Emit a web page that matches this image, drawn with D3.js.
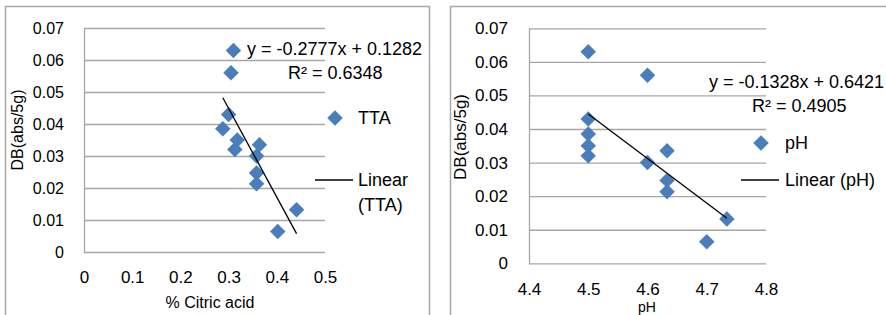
<!DOCTYPE html>
<html>
<head>
<meta charset="utf-8">
<script src="https://cdn.jsdelivr.net/npm/d3@7"></script>
<style>
    body { margin: 0; background: #fff; }
    svg { display: block; font-family: "Liberation Sans", Arial, sans-serif; }
    .grid line { stroke: #a6a6a6; stroke-width: 1.3; }
    .grid path { stroke: #a6a6a6; stroke-width: 1.3; }
</style>
</head>
<body>
<svg width="886" height="315"></svg>
<script>
// Same 12 samples in both panels: DB on y, TTA or pH on x.
var dbValues = [0.063, 0.056, 0.043, 0.0385, 0.035, 0.032, 0.0335, 0.030, 0.0247, 0.0213, 0.0132, 0.0064];
var ttaValues = [0.31, 0.305, 0.30, 0.288, 0.318, 0.313, 0.364, 0.358, 0.358, 0.358, 0.441, 0.402];
var phValues = [4.5, 4.6, 4.5, 4.5, 4.5, 4.5, 4.633, 4.6, 4.633, 4.633, 4.734, 4.70];

var dbTicks = [0, 0.01, 0.02, 0.03, 0.04, 0.05, 0.06, 0.07];
var ttaTicks = [0, 0.1, 0.2, 0.3, 0.4, 0.5];
var phTicks = [4.4, 4.5, 4.6, 4.7, 4.8];

// Trend line coefficients as printed on the charts: [slope, intercept, R²]
var ttaTrend = [-0.2777, 0.1282, 0.6348];
var phTrend = [-0.1328, 0.6421, 0.4905];

var MARKER_COLOR = "#4a7ebb";
var svg = d3.select("svg");

function fmt(v) {
    return v === 0 ? "0" : String(+v.toFixed(2));
}

function signed(v) {
    return v < 0 ? "- " + Math.abs(v).toFixed(4) : "+ " + v.toFixed(4);
}

/**
 * Draws one scatter panel with its frame, grid, markers, trend line and legend.
 */
function drawPanel(p) {
    var g = svg.append("g");

    g.append("rect")
        .attr("x", p.frame[0]).attr("y", p.frame[1])
        .attr("width", p.frame[2]).attr("height", p.frame[3])
        .attr("fill", "none").attr("stroke", "#a8a8a8").attr("stroke-width", 1.5);

    var x = d3.scaleLinear().domain(p.xDomain).range(p.xRange);
    var y = d3.scaleLinear().domain([0, 0.07]).range(p.yRange);
    var w = p.xRange[1] - p.xRange[0];

    // horizontal gridlines + left axis line
    var yAxis = g.append("g").attr("class", "grid")
        .attr("transform", "translate(" + p.xRange[0] + ",0)")
        .call(d3.axisLeft(y).tickValues(dbTicks).tickSize(-w).tickSizeOuter(0).tickPadding(p.yPad).tickFormat(fmt));
    yAxis.selectAll("text")
        .attr("font-size", p.tickFont).attr("fill", "#000")
        .attr("font-family", "Liberation Sans, Arial, sans-serif");

    var xAxis = g.append("g")
        .attr("transform", "translate(0," + p.yRange[0] + ")")
        .call(d3.axisBottom(x).tickValues(p.xTicks).tickSize(0).tickPadding(p.xPad).tickFormat(fmt));
    xAxis.select(".domain").remove();
    xAxis.selectAll("text")
        .attr("font-size", p.xTickFont).attr("fill", "#000")
        .attr("font-family", "Liberation Sans, Arial, sans-serif");

    g.append("text")
        .attr("transform", "translate(" + p.yTitle[0] + "," + p.yTitle[1] + ") rotate(-90)")
        .attr("text-anchor", "middle").attr("dy", "0.35em")
        .attr("font-size", p.yTitleFont)
        .text("DB(abs/5g)");

    g.append("text")
        .attr("x", p.xTitle[0]).attr("y", p.xTitle[1])
        .attr("text-anchor", "middle").attr("dy", "0.35em")
        .attr("font-size", p.xTitleFont)
        .text(p.xLabel);

    var diamond = d3.symbol(d3.symbolSquare, 120);

    g.selectAll(".pt").data(p.xs)
        .enter().append("path")
        .attr("d", diamond)
        .attr("transform", function(d, i) {
            return "translate(" + x(d) + "," + y(dbValues[i]) + ") rotate(45)";
        })
        .attr("fill", MARKER_COLOR);

    // trend line over the data's x range
    var ext = d3.extent(p.xs);
    g.append("line")
        .attr("x1", x(ext[0])).attr("y1", y(p.trend[0] * ext[0] + p.trend[1]))
        .attr("x2", x(ext[1])).attr("y2", y(p.trend[0] * ext[1] + p.trend[1]))
        .attr("stroke", "#000").attr("stroke-width", 1.3);

    g.append("text")
        .attr("x", p.eq[0]).attr("y", p.eq[1]).attr("dy", "0.35em")
        .attr("font-size", 18)
        .text("y = " + p.trend[0].toFixed(4) + "x " + signed(p.trend[1]));
    g.append("text")
        .attr("x", p.r2[0]).attr("y", p.r2[1]).attr("dy", "0.35em")
        .attr("font-size", 18)
        .text("R\u00B2 = " + p.trend[2].toFixed(4));

    // legend
    g.append("path")
        .attr("d", diamond)
        .attr("transform", "translate(" + p.legMarker[0] + "," + p.legMarker[1] + ") rotate(45)")
        .attr("fill", MARKER_COLOR);
    g.append("text")
        .attr("x", p.legText).attr("y", p.legMarker[1]).attr("dy", "0.35em")
        .attr("font-size", 18)
        .text(p.seriesName);

    g.append("line")
        .attr("x1", p.legLine[0]).attr("x2", p.legLine[1])
        .attr("y1", p.legLine[2]).attr("y2", p.legLine[2])
        .attr("stroke", "#000").attr("stroke-width", 1.3);
    p.linearLabel.forEach(function(t, i) {
        g.append("text")
            .attr("x", p.legText).attr("y", p.legLine[2] + i * 25).attr("dy", "0.35em")
            .attr("font-size", 18)
            .text(t);
    });
}

drawPanel({
    frame: [5.5, 6.5, 424, 330],
    xDomain: [0, 0.5], xRange: [84, 325], yRange: [252, 28],
    xTicks: ttaTicks, xs: ttaValues, trend: ttaTrend,
    tickFont: 16, xTickFont: 17, yPad: 20, xPad: 19,
    yTitle: [17, 130], yTitleFont: 16,
    xTitle: [210, 302], xTitleFont: 16, xLabel: "% Citric acid",
    eq: [247, 49], r2: [288, 73],
    legMarker: [335, 118], legText: 358, seriesName: "TTA",
    legLine: [315, 353, 180], linearLabel: ["Linear", "(TTA)"]
});

drawPanel({
    frame: [450.5, 6.5, 460, 330],
    xDomain: [4.4, 4.8], xRange: [529, 766], yRange: [263.3, 28.3],
    xTicks: phTicks, xs: phValues, trend: phTrend,
    tickFont: 17, xTickFont: 17, yPad: 21, xPad: 20,
    yTitle: [460, 137], yTitleFont: 17,
    xTitle: [647, 307], xTitleFont: 14, xLabel: "pH",
    eq: [709, 82], r2: [752, 106],
    legMarker: [761, 143], legText: 785, seriesName: "pH",
    legLine: [741, 779, 180], linearLabel: ["Linear (pH)"]
});
</script>
</body>
</html>
